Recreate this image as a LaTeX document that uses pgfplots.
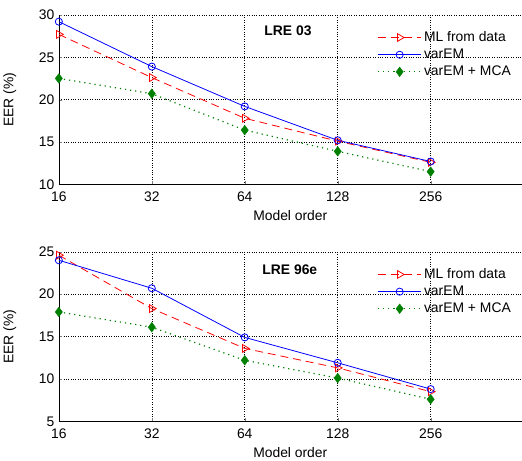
\documentclass[border=0pt]{standalone}
\usepackage{pgfplots}
\pgfplotsset{compat=1.18}
\usepgfplotslibrary{groupplots}
\usepackage{fontspec}
\setmainfont{Liberation Sans}
\definecolor{mgreen}{rgb}{0,0.5,0}

\begin{document}
\begin{tikzpicture}
\begin{groupplot}[
    group style={group size=1 by 2, vertical sep=68pt},
    scale only axis,
    width=467pt, height=171pt,
    xmode=log, log basis x=2,
    xmin=16, xmax=505,
    xtick={16,32,64,128,256},
    xticklabels={16,32,64,128,256},
    axis lines=left,
    axis line style={-, black},
    tick align=inside,
    major tick length=3pt,
    grid=major,
    grid style={dotted, black, line width=0.5pt},
    tick label style={font=\fontsize{14}{16}\selectfont},
    xticklabel style={yshift=-4pt},
    yticklabel style={xshift=-1pt},
    label style={font=\fontsize{14}{16}\selectfont},
    /pgf/number format/assume math mode=true,
    xlabel={Model order},
    ylabel={EER (\%)},
    xlabel style={yshift=-2pt},
    ylabel style={yshift=16pt},
    legend cell align=left,
    legend style={draw=none, fill=none, at={(0.681,0.925)}, anchor=north west,
      row sep=2pt, font=\fontsize{14}{16}\selectfont},
    legend image code/.code={
      \draw[mark repeat=2,mark phase=2] plot coordinates {(0pt,0pt) (22pt,0pt) (44pt,0pt)};},
  ]
\nextgroupplot[ymin=10, ymax=30, ytick={10,15,20,25,30}]
  \addplot[red, dash pattern=on 8pt off 5pt, line width=0.8pt,
    mark=triangle, mark size=4.5pt, mark options={solid, rotate=-90, fill=none}]
    coordinates {(16,27.7) (32,22.6) (64,17.8) (128,15.1) (256,12.6)};
  \addplot[blue, solid, line width=0.8pt, mark=o, mark size=3.6pt]
    coordinates {(16,29.2) (32,23.9) (64,19.2) (128,15.2) (256,12.7)};
  \addplot[mgreen, dash pattern=on 1.2pt off 4pt, line width=1.2pt,
    mark=diamond*, mark size=4.8pt, mark options={solid, fill=mgreen, line width=0.5pt}]
    coordinates {(16,22.5) (32,20.7) (64,16.4) (128,13.9) (256,11.5)};
  \legend{ML from data, varEM, varEM + MCA}
  \node[font=\fontsize{14}{16}\selectfont\bfseries] at (rel axis cs:0.495,0.906) {LRE 03};
\nextgroupplot[ymin=5, ymax=25, ytick={5,10,15,20,25}]
  \addplot[red, dash pattern=on 8pt off 5pt, line width=0.8pt,
    mark=triangle, mark size=4.5pt, mark options={solid, rotate=-90, fill=none}]
    coordinates {(16,24.6) (32,18.3) (64,13.6) (128,11.3) (256,8.5)};
  \addplot[blue, solid, line width=0.8pt, mark=o, mark size=3.6pt]
    coordinates {(16,24.0) (32,20.7) (64,14.9) (128,11.9) (256,8.8)};
  \addplot[mgreen, dash pattern=on 1.2pt off 4pt, line width=1.2pt,
    mark=diamond*, mark size=4.8pt, mark options={solid, fill=mgreen, line width=0.5pt}]
    coordinates {(16,17.9) (32,16.1) (64,12.2) (128,10.1) (256,7.6)};
  \legend{ML from data, varEM, varEM + MCA}
  \node[font=\fontsize{14}{16}\selectfont\bfseries] at (rel axis cs:0.499,0.895) {LRE 96e};
\end{groupplot}
% white space above and left of the upper axis, as in the reference
\path (group c1r1.north west) ++(-55pt,15pt);
\end{tikzpicture}
\end{document}
